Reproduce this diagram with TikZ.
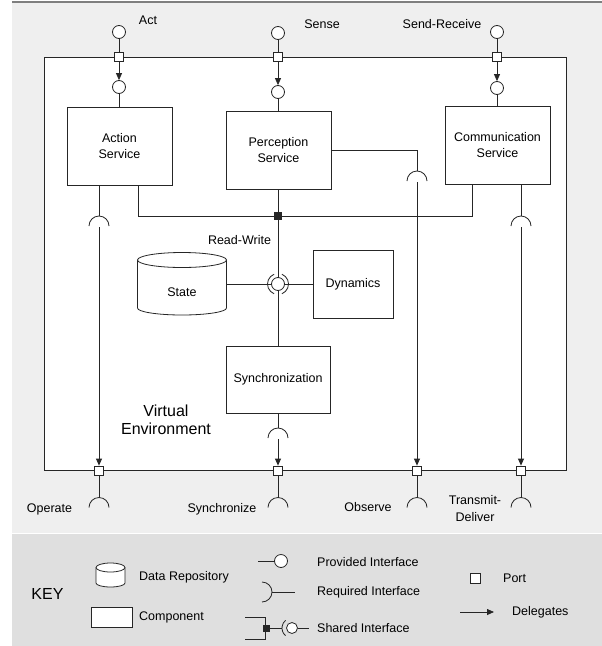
\documentclass[tikz,border=0pt]{standalone}
\usepackage{fontspec}
\setmainfont{Liberation Sans}
\usetikzlibrary{arrows.meta}

\definecolor{pagebg}{HTML}{EFEFEF}
\definecolor{keybg}{HTML}{DFDFDF}
\definecolor{rule}{HTML}{7F7F7F}
\definecolor{ink}{HTML}{262626}

\tikzset{
  wire/.style={draw=ink, line width=0.8pt},
  deleg/.style={wire, -{Triangle[length=7pt,width=6pt]}},
  txt/.style={inner sep=0pt, align=center, font=\fontsize{12.5}{16}\selectfont},
  comp/.style={wire, fill=white, rectangle, inner sep=0pt, align=center,
               font=\fontsize{12.5}{16}\selectfont},
  port/.style={wire, fill=white, rectangle, minimum size=9pt, inner sep=0pt},
  ball/.style={wire, fill=white, circle, minimum size=13pt, inner sep=0pt},
  smallball/.style={wire, fill=white, circle, minimum size=11pt, inner sep=0pt},
  junction/.style={fill=ink, rectangle, minimum size=8pt, inner sep=0pt},
  socket/.pic={\draw[wire] (-10,0) arc[start angle=180,end angle=360,radius=10];},
  ring/.pic={
    \draw[wire] (112:10.5) arc[start angle=112,end angle=248,radius=10.5];
    \draw[wire] (-68:10.5) arc[start angle=-68,end angle=68,radius=10.5];},
}

\begin{document}
\begin{tikzpicture}[x=1pt,y=-1pt]
\useasboundingbox (0,0) rectangle (602,646);

% backgrounds
\fill[pagebg] (12,3) rectangle (602,533);
\fill[keybg] (12,534) rectangle (602,646);
\draw[rule, line width=2.5pt] (12,2) -- (602,2);

% the virtual environment frame
\draw[wire, fill=white] (44,57) rectangle (566,470.5);
\node[txt, font=\fontsize{16}{18.5}\selectfont] (venv) at (166,420) {Virtual\\Environment};

% components
\node[comp, minimum width=105pt, minimum height=78pt] (action) at (119.5,146) {Action\\Service};
\node[comp, minimum width=105pt, minimum height=78pt] (percep) at (278.5,150) {Perception\\Service};
\node[comp, minimum width=105pt, minimum height=78pt] (comm) at (497.5,145) {Communication\\Service};
\node[comp, minimum width=80pt, minimum height=68pt] (dyn) at (353,284) {Dynamics};
\node[comp, minimum width=104pt, minimum height=67pt] (sync) at (278,379.5) {Synchronization};

% state repository
\node[minimum width=89pt, minimum height=62pt, inner sep=0pt] (state) at (182,284) {};
\draw[wire, fill=white] (137.5,260) -- (137.5,308)
   arc[start angle=180,end angle=0,x radius=44.5,y radius=7] -- (226.5,260);
\draw[wire, fill=white] (182,260) ellipse[x radius=44.5,y radius=7.5];
\node[txt] (statetxt) at (182,292) {State};

% top ports
\node[ball] (bAct) at (119,32) {};
\node[port] (pAct) at (119,57) {};
\node[ball] (iAct) at (119,87) {};
\node[ball] (bSense) at (278,33) {};
\node[port] (pSense) at (278,57) {};
\node[ball] (iSense) at (278,92) {};
\node[ball] (bSR) at (497,32) {};
\node[port] (pSR) at (497,57) {};
\node[ball] (iSR) at (497,88) {};
\node[txt] (tAct) at (148,20) {Act};
\node[txt] (tSense) at (322,24) {Sense};
\node[txt] (tSR) at (442,24) {Send-Receive};

\draw[wire] (bAct) -- (pAct);
\draw[deleg] (pAct) -- (iAct);
\draw[wire] (iAct) -- (iAct |- action.north);
\draw[wire] (bSense) -- (pSense);
\draw[deleg] (pSense) -- (iSense);
\draw[wire] (iSense) -- (iSense |- percep.north);
\draw[wire] (bSR) -- (pSR);
\draw[deleg] (pSR) -- (iSR);
\draw[wire] (iSR) -- (iSR |- comm.north);

% internal wiring
\node[junction] (jn) at (278,216) {};
\node[ball] (shared) at (278,284) {};
\pic at (shared) {ring};
\node[txt] (rw) at (239.5,240) {Read-Write};

\draw[wire] (percep.south -| jn) -- (jn) -- (shared);
\draw[wire] ([xshift=18.5pt]action.south) |- (jn);
\draw[wire] ([xshift=-25.5pt]comm.south) |- (jn);
\draw[wire] (state.east) -- (shared) -- (dyn.west);
\draw[wire] (shared) -- (sync.north);

% required sockets inside the frame
\coordinate (sOp) at (99,226);
\coordinate (sOb) at (417,181);
\coordinate (sTD) at (521,226);
\coordinate (sSy) at (278,438);
\pic at (sOp) {socket};
\pic at (sOb) {socket};
\pic at (sTD) {socket};
\pic at (sSy) {socket};
\draw[wire] ([xshift=-20.5pt]action.south) -- ([yshift=10pt]sOp);
\draw[wire] (percep.east) -| ([yshift=10pt]sOb);
\draw[wire] ([xshift=23.5pt]comm.south) -- ([yshift=10pt]sTD);
\draw[wire] (sync.south) -- ([yshift=10pt]sSy);

% bottom ports
\node[port] (pOp) at (99,470.5) {};
\node[port] (pSy) at (278,470.5) {};
\node[port] (pOb) at (417,470.5) {};
\node[port] (pTD) at (521,470.5) {};
\draw[deleg] ([yshift=-1pt]sOp) -- (pOp);
\draw[deleg] ([yshift=-1pt]sOb) -- (pOb);
\draw[deleg] ([yshift=-1pt]sTD) -- (pTD);
\draw[deleg] ([yshift=-1pt]sSy) -- (pSy);

\coordinate (bOp) at (99,507.5);
\coordinate (bSy) at (278,507.5);
\coordinate (bOb) at (417,507.5);
\coordinate (bTD) at (521,507.5);
\foreach \s/\p in {bOp/pOp, bSy/pSy, bOb/pOb, bTD/pTD} {
  \draw[wire] (\p) -- ([yshift=10pt]\s);
  \pic at (\s) {socket};
}
\node[txt] (tOp) at (49.5,509) {Operate};
\node[txt] (tSy) at (222,509) {Synchronize};
\node[txt] (tOb) at (368,507) {Observe};
\node[txt, font=\fontsize{12.5}{17}\selectfont] (tTD) at (475,508.5) {Transmit-\\Deliver};

% key
\node[txt, font=\fontsize{16}{19}\selectfont] (key) at (47.5,594) {KEY};

\draw[wire, fill=white] (96,567.5) -- (96,583)
   arc[start angle=180,end angle=0,x radius=14.5,y radius=4] -- (125,567.5);
\draw[wire, fill=white] (110.5,567.5) ellipse[x radius=14.5,y radius=4.5];
\node[txt, anchor=west] (kRepo) at (139,577) {Data Repository};

\node[wire, fill=white, minimum width=41pt, minimum height=20pt, inner sep=0pt] (kComp) at (111.5,617) {};
\node[txt, anchor=west] (kCompT) at (139,617) {Component};

\node[ball] (kBall) at (281,561) {};
\coordinate (kBallL) at (258,561);
\draw[wire] (kBallL) -- (kBall);
\node[txt, anchor=west] (kProv) at (317,562) {Provided Interface};

\coordinate (kReq) at (262,592);
\coordinate (kReqR) at (295,592);
\draw[wire] (262,582) arc[start angle=-90,end angle=90,radius=10];
\draw[wire] ([xshift=10pt]kReq) -- (kReqR);
\node[txt, anchor=west] (kReqT) at (317,592) {Required Interface};

\draw[wire] (245,617) -- (265,617) -- (265,639) -- (245,639);
\node[junction, minimum size=7pt] (kJn) at (266,628) {};
\node[smallball] (kSh) at (292,628) {};
\coordinate (kShR) at (309,628);
\draw[wire] (kSh.center) ++(130:10) arc[start angle=130,end angle=230,radius=10];
\draw[wire] (kJn) -- ([xshift=-10pt]kSh.center);
\draw[wire] (kSh) -- (kShR);
\node[txt, anchor=west] (kShT) at (317,628) {Shared Interface};

\node[port, minimum size=10pt] (kPort) at (475,578) {};
\node[txt, anchor=west] (kPortT) at (503,578) {Port};

\coordinate (kd1) at (460,612);
\coordinate (kd2) at (494,612);
\draw[deleg] (kd1) -- (kd2);
\node[txt, anchor=west] (kDel) at (512,612) {Delegates};
\end{tikzpicture}
\end{document}
